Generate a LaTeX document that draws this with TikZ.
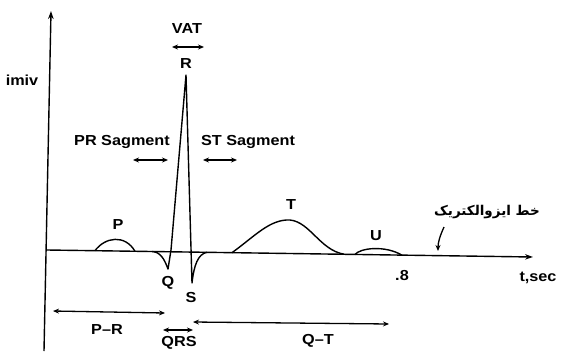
\documentclass[tikz,border=0pt]{standalone}
\usepackage{fontspec}
\setmainfont{Liberation Sans}
\newfontfamily\lblfont[FakeStretch=1.12,Ligatures=TeX]{Liberation Sans Bold}
\newfontfamily\arabicfont[Script=Arabic]{DejaVu Sans}
\TeXXeTstate=1
\usetikzlibrary{arrows.meta}
\tikzset{
  lbl/.style={font=\lblfont\fontsize{14.5}{14.5}\selectfont, inner sep=0pt},
  wave/.style={line width=1.4pt, line join=round},
  axis/.style={line width=1.4pt, -{Stealth[length=8pt,width=5.5pt]}},
  dim/.style={line width=1.3pt, {Stealth[length=6pt,width=5pt]}-{Stealth[length=6pt,width=5pt]}},
}
\begin{document}
\begin{tikzpicture}[x=1pt,y=-1pt]
\useasboundingbox (0,0) rectangle (564,351);
% axes
\coordinate (yb) at (44,351);
\coordinate (yt) at (51,11);
\coordinate (xl) at (47,250);
\coordinate (xr) at (533,257);
\draw[axis] (yb) -- (yt);
\draw[axis] (xl) -- (xr);
% waveform
\draw[wave] (95,250.7) .. controls (105,237) and (125,234) .. (135,251.3);
\draw[wave] (152,251.5) .. controls (160,252) and (164,258) .. (168,269)
  -- (171,250) -- (186,75) -- (192,283)
  .. controls (194,265) and (198,254) .. (207,252.3);
\draw[wave] (232,252.7) .. controls (255,236) and (270,219) .. (290,220)
  .. controls (310,222) and (320,250) .. (344,254.2);
\draw[wave] (355,254.5) .. controls (360,248) and (385,245) .. (402,255.2);
% labels
\node[lbl] (imiv) at (22,80) {imiv};
\node[lbl] (vat) at (187,29) {VAT};
\node[lbl] (R) at (186,64) {R};
\node[lbl] (P) at (118,225) {P};
\node[lbl] (Q) at (168,283) {Q};
\node[lbl] (S) at (191,298) {S};
\node[lbl] (T) at (291,205) {T};
\node[lbl] (U) at (376,236) {U};
\node[lbl] (p8) at (402,276) {.8};
\node[lbl] (tsec) at (538,278) {t,sec};
\node[lbl] (prs) at (122,142) {PR Sagment};
\node[lbl] (sts) at (248,142) {ST Sagment};
\node[lbl] (pr) at (107,330) {P–R};
\node[lbl] (qrs) at (179,343) {QRS};
\node[lbl] (qt) at (318,341) {Q–T};
\node[font=\arabicfont\bfseries\fontsize{13.5}{13.5}\selectfont, inner sep=0pt] (iso) at (487,212) {\beginR خط ایزوالکتریک\endR};
% dimension arrows
\draw[dim] (172,47) -- (204,47);
\draw[dim] (133,160) -- (168,160);
\draw[dim] (203,160) -- (237,160);
\draw[dim] (53,311) -- (165,313);
\draw[dim] (163,330) -- (193,330);
\draw[dim] (193,322) -- (389,324);
% pointer to isoelectric line
\coordinate (isoend) at (438,251);
\draw[line width=1.3pt, -{Stealth[length=6pt,width=5pt]}] (444,227) .. controls (440,236) and (438,242) .. (isoend);
\end{tikzpicture}
\end{document}
